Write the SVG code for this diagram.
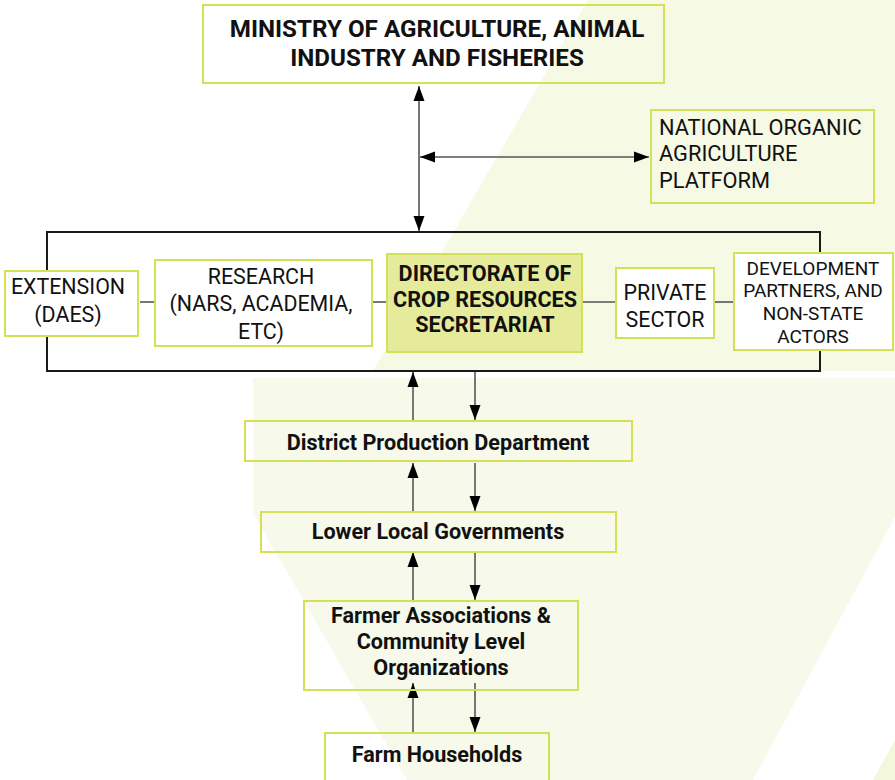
<svg xmlns="http://www.w3.org/2000/svg" width="895" height="780" viewBox="0 0 895 780">
<defs>
<style>
.box{fill:#ffffff;stroke:#d4e157;stroke-width:2}
.boxT{fill:none;stroke:#d4e157;stroke-width:2}
.dir{fill:#e5eb9b;stroke:#d4e157;stroke-width:2}
.t{font-family:Roboto,"Liberation Sans",sans-serif;fill:#111;text-anchor:middle}
.r{font-weight:400;font-size:21.4px}
.b{font-weight:700;font-size:21.6px}
.ln{stroke:#555;stroke-width:1.6;fill:none}
.arr{stroke:#555;stroke-width:1.6;fill:none;marker-end:url(#ah)}
.arr2{stroke:#555;stroke-width:1.6;fill:none;marker-end:url(#ah);marker-start:url(#ahs)}
</style>
<marker id="ah" markerUnits="userSpaceOnUse" markerWidth="15" markerHeight="12" refX="15" refY="6" orient="auto"><path d="M0,0.5 L15,6 L0,11.5 Z" fill="#000"/></marker>
<marker id="ahs" markerUnits="userSpaceOnUse" markerWidth="15" markerHeight="12" refX="0" refY="6" orient="auto"><path d="M15,0.5 L0,6 L15,11.5 Z" fill="#000"/></marker>
</defs>
<rect x="0" y="0" width="895" height="780" fill="#ffffff"/>
<g id="background">
<polygon points="588,0 895,0 895,371 373,371" fill="#f6f9e4"/>
<polygon points="253,378 895,378 895,517 753,780 407,780 253,513" fill="#f7f9ea"/>
<polygon points="873,780 895,740 895,780" fill="#f3f7dc"/>
</g>
<g id="connectors">
<line class="arr2" x1="419" y1="86" x2="419" y2="231"/>
<line class="arr2" x1="420" y1="157" x2="649" y2="157"/>
<line class="ln" x1="140" y1="302" x2="155" y2="302"/>
<line class="ln" x1="372" y1="302" x2="387" y2="302"/>
<line class="ln" x1="582" y1="302" x2="616" y2="302"/>
<line class="ln" x1="714" y1="302" x2="734" y2="302"/>
<line class="arr" x1="413" y1="421" x2="413" y2="372"/>
<line class="arr" x1="475" y1="372" x2="475" y2="420"/>
<line class="arr" x1="413" y1="511" x2="413" y2="463"/>
<line class="arr" x1="475" y1="463" x2="475" y2="511"/>
<line class="arr" x1="413" y1="601" x2="413" y2="552"/>
<line class="arr" x1="475" y1="552" x2="475" y2="600"/>
<line class="arr" x1="413" y1="733" x2="413" y2="683"/>
<line class="arr" x1="475" y1="683" x2="475" y2="732"/>
</g>
<g id="central-frame">
<rect x="47" y="232" width="773" height="139" fill="none" stroke="#1a1a1a" stroke-width="2"/>
</g>
<g id="ministry">
<rect class="boxT" x="203" y="5" width="461" height="78"/>
<text class="t b" style="font-size:24.2px" x="437" y="37">MINISTRY OF AGRICULTURE, ANIMAL</text>
<text class="t b" style="font-size:24.2px" x="437" y="66">INDUSTRY AND FISHERIES</text>
</g>
<g id="national-organic">
<rect class="boxT" x="651" y="110" width="223" height="93"/>
<text class="t r" style="text-anchor:start;font-size:21.8px" x="659" y="135">NATIONAL ORGANIC</text>
<text class="t r" style="text-anchor:start;font-size:21.8px" x="659" y="161">AGRICULTURE</text>
<text class="t r" style="text-anchor:start;font-size:21.8px" x="659" y="188">PLATFORM</text>
</g>
<g id="extension">
<rect class="box" x="5" y="271" width="133" height="65"/>
<text class="t r" x="68" y="294">EXTENSION</text>
<text class="t r" x="68" y="322">(DAES)</text>
</g>
<g id="research">
<rect class="box" x="155" y="260" width="217" height="86"/>
<text class="t r" x="261" y="284">RESEARCH</text>
<text class="t r" x="261" y="311">(NARS, ACADEMIA,</text>
<text class="t r" x="261" y="339">ETC)</text>
</g>
<g id="directorate">
<rect class="dir" x="387" y="254" width="195" height="98"/>
<text class="t b" x="485" y="281">DIRECTORATE OF</text>
<text class="t b" x="485" y="307">CROP RESOURCES</text>
<text class="t b" x="485" y="332">SECRETARIAT</text>
</g>
<g id="private-sector">
<rect class="box" x="616" y="268" width="98" height="70"/>
<text class="t r" x="665" y="300">PRIVATE</text>
<text class="t r" x="665" y="327">SECTOR</text>
</g>
<g id="development-partners">
<rect class="box" x="734" y="253" width="159" height="97"/>
<text class="t r" style="font-size:19px" x="813" y="275">DEVELOPMENT</text>
<text class="t r" style="font-size:19px" x="813" y="297">PARTNERS, AND</text>
<text class="t r" style="font-size:19px" x="813" y="320">NON-STATE</text>
<text class="t r" style="font-size:19px" x="813" y="343">ACTORS</text>
</g>
<g id="district">
<rect class="boxT" x="245" y="421" width="387" height="40"/>
<text class="t b" x="438" y="450">District Production Department</text>
</g>
<g id="lower-local">
<rect class="boxT" x="261" y="512" width="355" height="40"/>
<text class="t b" x="438" y="539">Lower Local Governments</text>
</g>
<g id="farmer-associations">
<rect class="boxT" x="304" y="601" width="274" height="89"/>
<text class="t b" x="441" y="623">Farmer Associations &amp;</text>
<text class="t b" x="441" y="649">Community Level</text>
<text class="t b" x="441" y="675">Organizations</text>
</g>
<g id="farm-households">
<rect class="boxT" x="325" y="733" width="224" height="60"/>
<text class="t b" x="437" y="762">Farm Households</text>
</g>
</svg>
